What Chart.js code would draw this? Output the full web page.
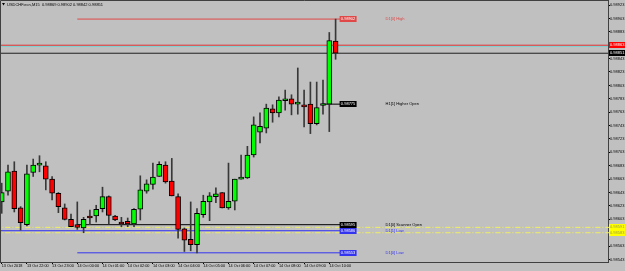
<!DOCTYPE html>
<html>
<head>
<meta charset="utf-8">
<script src="https://cdn.jsdelivr.net/npm/chart.js@4.4.1/dist/chart.umd.min.js"></script>
<style>
  html, body { margin: 0; padding: 0; background: #c0c0c0; }
  #wrap { width: 625px; height: 271px; }
</style>
</head>
<body>
<div id="wrap"><canvas id="chart" width="625" height="271"></canvas></div>
<script>
const symbolTitle = "USDCHF.ecn,M15";

// M15 bars, 13 Oct 21:00 .. 14 Oct 10:15
const opens = [
  0.98629, 0.98645, 0.98675, 0.98620, 0.98595, 0.98673, 0.98684, 0.98683, 0.98663, 0.98642,
  0.98620, 0.98603, 0.98595, 0.98590, 0.98608, 0.98608, 0.98619, 0.98637, 0.98608, 0.98599,
  0.98600, 0.98596, 0.98618, 0.98645, 0.98655, 0.98667, 0.98684, 0.98660, 0.98637, 0.98589,
  0.98573, 0.98565, 0.98610, 0.98629, 0.98637, 0.98643, 0.98620, 0.98630, 0.98663, 0.98665,
  0.98699, 0.98733, 0.98739, 0.98768, 0.98762, 0.98780, 0.98783, 0.98775, 0.98774, 0.98775,
  0.98746, 0.98773, 0.98775, 0.98869
];
const highs = [
  0.98657, 0.98684, 0.98689, 0.98622, 0.98684, 0.98693, 0.98698, 0.98689, 0.98667, 0.98643,
  0.98626, 0.98611, 0.98629, 0.98606, 0.98617, 0.98624, 0.98651, 0.98638, 0.98609, 0.98606,
  0.98605, 0.98619, 0.98668, 0.98662, 0.98687, 0.98689, 0.98689, 0.98694, 0.98641, 0.98590,
  0.98629, 0.98619, 0.98639, 0.98643, 0.98650, 0.98643, 0.98687, 0.98663, 0.98699, 0.98712,
  0.98756, 0.98762, 0.98775, 0.98774, 0.98786, 0.98796, 0.98789, 0.98829, 0.98796, 0.98808,
  0.98808, 0.98811, 0.98882, 0.98902
];
const lows = [
  0.98612, 0.98639, 0.98614, 0.98587, 0.98593, 0.98667, 0.98674, 0.98647, 0.98632, 0.98613,
  0.98602, 0.98592, 0.98588, 0.98583, 0.98595, 0.98599, 0.98614, 0.98596, 0.98601, 0.98592,
  0.98592, 0.98592, 0.98602, 0.98642, 0.98648, 0.98667, 0.98657, 0.98638, 0.98575, 0.98555,
  0.98556, 0.98553, 0.98606, 0.98601, 0.98628, 0.98620, 0.98618, 0.98617, 0.98663, 0.98664,
  0.98696, 0.98717, 0.98732, 0.98748, 0.98756, 0.98766, 0.98759, 0.98760, 0.98741, 0.98731,
  0.98744, 0.98760, 0.98734, 0.98842
];
const closes = [
  0.98643, 0.98674, 0.98619, 0.98598, 0.98671, 0.98684, 0.98686, 0.98663, 0.98642, 0.98622,
  0.98603, 0.98592, 0.98591, 0.98603, 0.98605, 0.98618, 0.98637, 0.98609, 0.98602, 0.98596,
  0.98596, 0.98618, 0.98647, 0.98656, 0.98666, 0.98685, 0.98659, 0.98638, 0.98588, 0.98572,
  0.98565, 0.98612, 0.98630, 0.98638, 0.98641, 0.98620, 0.98630, 0.98663, 0.98664, 0.98699,
  0.98744, 0.98742, 0.98769, 0.98762, 0.98781, 0.98783, 0.98775, 0.98778, 0.98771, 0.98746,
  0.98770, 0.98776, 0.98870, 0.98851
];

const hourLabels = [
  "13 Oct 2018", "13 Oct 22:00", "13 Oct 23:00", "14 Oct 00:00", "14 Oct 01:00",
  "14 Oct 02:00", "14 Oct 03:00", "14 Oct 04:00", "14 Oct 05:00", "14 Oct 06:00",
  "14 Oct 07:00", "14 Oct 08:00", "14 Oct 09:00", "14 Oct 10:00"
];
const hourBars = [0, 4, 8, 12, 16, 20, 24, 28, 32, 36, 40, 44, 48, 52];

const priceTicks = [
  0.98923, 0.98903, 0.98883, 0.98863, 0.98843, 0.98823, 0.98803, 0.98783, 0.98763, 0.98743,
  0.98723, 0.98703, 0.98683, 0.98663, 0.98643, 0.98623, 0.98603, 0.98583, 0.98563, 0.98543
];

// indicator levels
const levelNames = ["D1[0] High", "H1[1] Higher Open", "D1[0] Scanner Open", "D1[1] Low", "D1[0] Low"];
const levelValues = [0.98902, 0.98775, 0.98595, 0.98586, 0.98553];
const levelColors = ["#e04848", "#000000", "#000000", "#3434f0", "#3434f0"];
const levelFromBar = [12, 51, 12, -1, 12];

const askPrice = 0.98863;
const bidPrice = closes[closes.length - 1];
const zoneLevels = [0.98591, 0.98583];

const lastBar = closes.length - 1;
const bull = "#00ff00";
const bear = "#ff0000";

Chart.defaults.font.family = "'Liberation Sans', Arial, sans-serif";

const bodies = opens.map((o, i) => ({ x: i, y: [o, closes[i]] }));
const wicks = highs.map((h, i) => ({ x: i, y: [lows[i], h] }));
const bodyColors = opens.map((o, i) => (closes[i] >= o ? bull : bear));

const levelSets = levelValues.map((v, i) => ({
  type: "line",
  data: [{ x: levelFromBar[i], y: v }, { x: lastBar + 0.7, y: v }],
  borderColor: levelColors[i],
  borderWidth: 1,
  pointRadius: 0,
  order: 5,
}));

const fullLine = (v, color, dash, clipRight) => ({
  type: "line",
  data: [{ x: -1, y: v }, { x: 120, y: v }],
  borderColor: color,
  borderWidth: 1,
  borderDash: dash,
  pointRadius: 0,
  clip: { left: 0, top: 0, bottom: 0, right: clipRight },
  order: 6,
});

const fmt = (v) => v.toFixed(5);

const overlay = {
  id: "overlay",
  afterDraw(chart) {
    const { ctx, chartArea, scales: { x, y } } = chart;
    ctx.save();
    ctx.font = "4px 'Liberation Sans', Arial, sans-serif";
    ctx.textBaseline = "middle";

    // frame
    ctx.strokeStyle = "#404040";
    ctx.lineWidth = 1;
    ctx.beginPath();
    ctx.moveTo(0.5, chartArea.bottom);
    ctx.lineTo(0.5, chartArea.top + 0.5);
    ctx.lineTo(chartArea.right, chartArea.top + 0.5);
    ctx.stroke();

    // title
    ctx.fillStyle = "#000";
    ctx.beginPath();
    ctx.moveTo(2, 3); ctx.lineTo(5, 3); ctx.lineTo(3.5, 5.5); ctx.closePath();
    ctx.fill();
    const title = symbolTitle + "  " + [opens[lastBar], highs[lastBar], lows[lastBar], closes[lastBar]].map(fmt).join(" ");
    ctx.textAlign = "left";
    ctx.fillText(title, 7, 4.5);

    // level value boxes and names
    const bx = x.getPixelForValue(lastBar) + 4;
    const tx = x.getPixelForValue(lastBar) + 50;
    levelValues.forEach((v, i) => {
      const py = Math.round(y.getPixelForValue(v));
      ctx.fillStyle = levelColors[i];
      ctx.fillRect(bx, py - 3, 17, 6);
      ctx.fillStyle = "#fff";
      ctx.textAlign = "center";
      ctx.fillText(fmt(v), bx + 8.5, py + 0.3);
      ctx.fillStyle = levelColors[i];
      ctx.textAlign = "left";
      ctx.fillText(levelNames[i], tx, py + 0.3);
    });

    // price boxes on the right axis
    const axisBox = (v, bg, fg) => {
      const py = Math.round(y.getPixelForValue(v));
      ctx.fillStyle = bg;
      ctx.fillRect(chartArea.right + 1, py - 3, 17, 6);
      ctx.fillStyle = fg;
      ctx.textAlign = "left";
      ctx.fillText(fmt(v), chartArea.right + 2, py + 0.3);
    };
    zoneLevels.forEach((v) => axisBox(v, "#ffff00", "#9a9a40"));
    axisBox(askPrice, "#ff0000", "#ffffff");
    axisBox(bidPrice, "#000000", "#ffffff");
    ctx.restore();
  },
};

new Chart(document.getElementById("chart").getContext("2d"), {
  type: "bar",
  data: {
    datasets: [
      {
        data: bodies,
        backgroundColor: bodyColors,
        borderColor: "#000",
        borderWidth: 1,
        borderSkipped: false,
        barThickness: 5,
        minBarLength: 2,
        grouped: false,
        order: 1,
      },
      {
        data: wicks,
        backgroundColor: "#383838",
        barThickness: 1,
        grouped: false,
        order: 2,
      },
      ...levelSets,
      fullLine(askPrice, "#e03030", [], 0),
      fullLine(0.98861, "#7fd0d0", [], 0),
      fullLine(bidPrice, "#202020", [], 0),
      fullLine(zoneLevels[0], "#f0f060", [5, 2, 1, 2], 17),
      fullLine(zoneLevels[1], "#f0f060", [5, 2, 1, 2], 17),
    ],
  },
  options: {
    responsive: false,
    animation: false,
    events: [],
    layout: { padding: 0 },
    plugins: {
      legend: { display: false },
      tooltip: { enabled: false },
    },
    scales: {
      x: {
        type: "linear",
        min: -0.27,
        max: 96.24,
        offset: false,
        grid: { drawOnChartArea: false, drawTicks: true, tickLength: 2, color: "#000", offset: false },
        border: { display: true, color: "#404040" },
        afterBuildTicks: (s) => { s.ticks = hourBars.map((v) => ({ value: v })); },
        afterFit: (s) => { s.height = 9; s.paddingLeft = 0; s.paddingRight = 0; },
        ticks: {
          autoSkip: false,
          maxRotation: 0,
          align: "start",
          padding: 0,
          color: "#000",
          font: { size: 3.8 },
          callback: (v, i) => hourLabels[i],
        },
      },
      y: {
        position: "right",
        min: 0.985393,
        max: 0.989305,
        beginAtZero: false,
        grid: { drawOnChartArea: false, drawTicks: true, tickLength: 2, color: "#000" },
        border: { display: true, color: "#404040" },
        afterBuildTicks: (s) => { s.ticks = priceTicks.map((v) => ({ value: v })); },
        afterFit: (s) => { s.width = 17; s.paddingTop = 0; s.paddingBottom = 0; },
        ticks: {
          padding: 0,
          color: "#000",
          font: { size: 4 },
          callback: (v) => fmt(v),
        },
      },
    },
  },
  plugins: [overlay],
});
</script>
</body>
</html>
